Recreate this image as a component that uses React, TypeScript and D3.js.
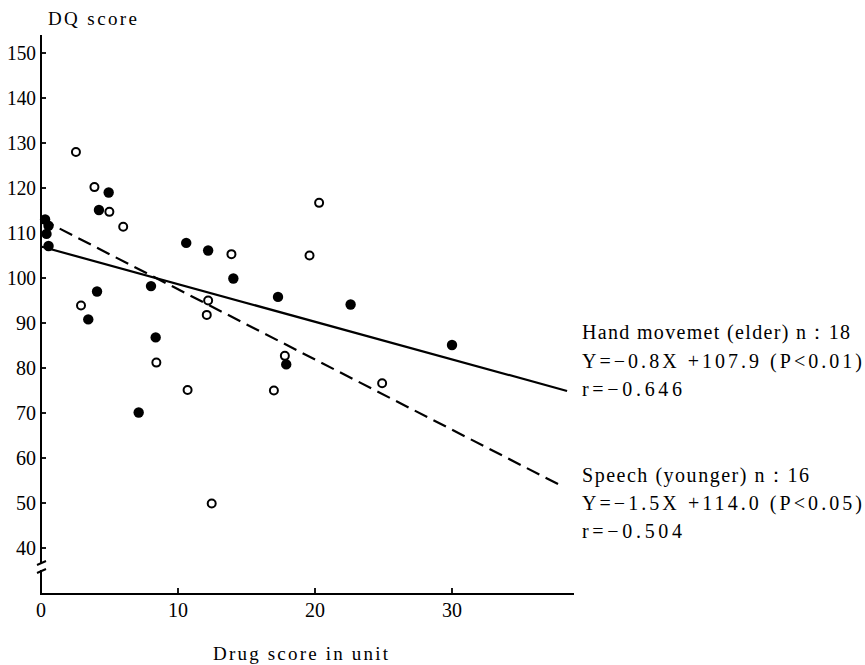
import React from "react";
import * as d3 from "d3";

const yTicks = [40, 50, 60, 70, 80, 90, 100, 110, 120, 130, 140, 150];
const xTicks = [0, 10, 20, 30];

// Hand movement (elder), filled circles: [drug score, DQ score]
const elderX = [0.3, 0.55, 0.4, 0.55, 4.94, 4.23, 10.6, 12.2, 14.04, 8.03, 4.09, 3.45, 17.3, 8.37, 7.13, 17.9, 22.6, 30.0];
const elderY = [113.0, 111.6, 109.8, 107.1, 119.0, 115.1, 107.8, 106.1, 99.9, 98.2, 97.0, 90.8, 95.8, 86.8, 70.1, 80.8, 94.1, 85.1];

// Speech (younger), open circles
const youngerX = [2.55, 3.9, 4.99, 6.0, 13.9, 2.92, 12.2, 12.1, 8.42, 10.7, 17.0, 17.8, 20.3, 19.6, 24.9, 12.46];
const youngerY = [128.0, 120.2, 114.7, 111.4, 105.3, 93.9, 95.0, 91.8, 81.2, 75.1, 75.0, 82.7, 116.7, 105.0, 76.6, 49.9];

// Regression lines as drawn (x, y endpoints)
const elderLineX = [0, 38.4];
const elderLineY = [107.0, 74.9];
const youngerLineX = [0, 38];
const youngerLineY = [113.1, 53.8];

const elderLegend = ["Hand movemet (elder) n：18", "Y=−0.8X +107.9 (P<0.01)", "r=−0.646"];
const youngerLegend = ["Speech (younger) n：16", "Y=−1.5X +114.0 (P<0.05)", "r=−0.504"];

const TS = { fontFamily: "Liberation Serif" };

export default function App() {
  const x = d3.scaleLinear().domain([0, 38]).range([41, 561.6]);
  const y = d3.scaleLinear().domain([40, 150]).range([548, 53]);
  const axisX = 41;
  const axisY = 594;
  const line = d3.line<[number, number]>().x((d) => x(d[0])).y((d) => y(d[1]));
  const elderPts: [number, number][] = elderLineX.map((v, i) => [v, elderLineY[i]]);
  const youngerPts: [number, number][] = youngerLineX.map((v, i) => [v, youngerLineY[i]]);

  return (
    <svg width={865} height={665} style={{ position: "absolute", left: 0, top: 0, background: "#fff" }}>
      <rect width={865} height={665} fill="#fff" />
      {/* y axis with break */}
      <line x1={axisX} y1={35} x2={axisX} y2={563} stroke="#000" strokeWidth={2} />
      <line x1={axisX} y1={570} x2={axisX} y2={axisY + 1} stroke="#000" strokeWidth={2} />
      <line x1={37} y1={565} x2={46} y2={561} stroke="#000" strokeWidth={2} />
      <line x1={37} y1={573} x2={46} y2={569} stroke="#000" strokeWidth={2} />
      {yTicks.map((t) => (
        <g key={"yt" + t}>
          <line x1={axisX} y1={y(t)} x2={axisX + 5} y2={y(t)} stroke="#000" strokeWidth={1.8} />
          <text x={36} y={y(t) + 7} textAnchor="end" fontSize={20} fill="#000" style={TS} textLength={t >= 100 ? 29 : 20} lengthAdjust="spacingAndGlyphs">
            {t}
          </text>
        </g>
      ))}
      <text x={48} y={25} fontSize={19} textLength={89} lengthAdjust="spacing" fill="#000" style={TS}>
        DQ score
      </text>

      {/* x axis */}
      <line x1={axisX - 1} y1={axisY} x2={574} y2={axisY} stroke="#000" strokeWidth={2} />
      {xTicks.map((t) => (
        <g key={"xt" + t}>
          {t > 0 && <line x1={x(t)} y1={axisY} x2={x(t)} y2={axisY - 6} stroke="#000" strokeWidth={1.8} />}
          <text x={x(t)} y={617} textAnchor="middle" fontSize={20} fill="#000" style={TS}>
            {t}
          </text>
        </g>
      ))}
      <text x={213} y={660} fontSize={19} textLength={175} lengthAdjust="spacing" fill="#000" style={TS}>
        Drug score in unit
      </text>

      {/* regression lines */}
      <path d={line(elderPts) || ""} stroke="#000" strokeWidth={2.2} fill="none" />
      <path d={line(youngerPts) || ""} stroke="#000" strokeWidth={2.2} fill="none" strokeDasharray="14,7" />

      {/* points */}
      {elderX.map((v, i) => (
        <circle key={"e" + i} cx={x(v)} cy={y(elderY[i])} r={5.2} fill="#000" />
      ))}
      {youngerX.map((v, i) => (
        <circle key={"o" + i} cx={x(v)} cy={y(youngerY[i])} r={4} fill="#fff" stroke="#000" strokeWidth={2} />
      ))}

      {/* legends */}
      {elderLegend.map((s, i) => (
        <text
          key={"el" + i}
          x={582}
          y={339 + i * 28.5}
          fontSize={20}
          fill="#000"
          style={TS}
          textLength={[268, 280, 100][i]}
          lengthAdjust="spacing"
        >
          {s}
        </text>
      ))}
      {youngerLegend.map((s, i) => (
        <text
          key={"yl" + i}
          x={582}
          y={482 + i * 28}
          fontSize={20}
          fill="#000"
          style={TS}
          textLength={[227, 280, 100][i]}
          lengthAdjust="spacing"
        >
          {s}
        </text>
      ))}
    </svg>
  );
}
